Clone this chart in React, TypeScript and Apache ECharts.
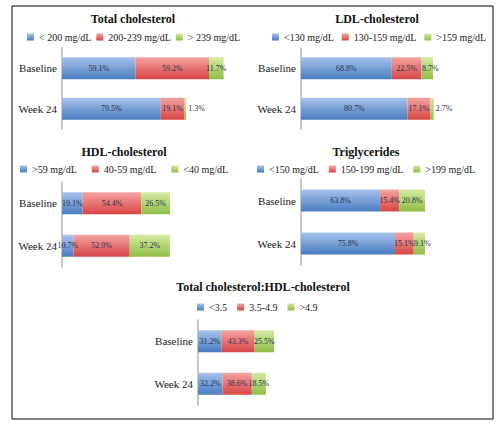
import { useEffect, useRef } from 'react';
import * as echarts from 'echarts';

const CATEGORIES = ['Baseline', 'Week 24'];

const TITLES = [
  'Total cholesterol',
  'LDL-cholesterol',
  'HDL-cholesterol',
  'Triglycerides',
  'Total cholesterol:HDL-cholesterol',
];

// Total cholesterol
const TC_LEGEND = ['< 200 mg/dL', '200-239 mg/dL', '> 239 mg/dL'];
const TC_LOW = [59.1, 79.5];
const TC_MID = [59.2, 19.1];
const TC_HIGH = [11.7, 1.3];

// LDL-cholesterol
const LDL_LEGEND = ['<130 mg/dL', '130-159 mg/dL', '>159 mg/dL'];
const LDL_LOW = [68.8, 80.7];
const LDL_MID = [22.5, 17.1];
const LDL_HIGH = [8.7, 2.7];

// HDL-cholesterol
const HDL_LEGEND = ['>59 mg/dL', '40-59 mg/dL', '<40 mg/dL'];
const HDL_HIGH = [19.1, 10.7];
const HDL_MID = [54.4, 52.0];
const HDL_LOW = [26.5, 37.2];

// Triglycerides
const TG_LEGEND = ['<150 mg/dL', '150-199 mg/dL', '>199 mg/dL'];
const TG_LOW = [63.8, 75.8];
const TG_MID = [15.4, 15.1];
const TG_HIGH = [20.8, 9.1];

// Total cholesterol:HDL-cholesterol ratio
const RATIO_LEGEND = ['<3.5', '3.5-4.9', '>4.9'];
const RATIO_LOW = [31.2, 32.2];
const RATIO_MID = [43.3, 38.6];
const RATIO_HIGH = [25.5, 18.5];

const PANEL_DATA = [
  { legend: TC_LEGEND, values: [TC_LOW, TC_MID, TC_HIGH] },
  { legend: LDL_LEGEND, values: [LDL_LOW, LDL_MID, LDL_HIGH] },
  { legend: HDL_LEGEND, values: [HDL_HIGH, HDL_MID, HDL_LOW] },
  { legend: TG_LEGEND, values: [TG_LOW, TG_MID, TG_HIGH] },
  { legend: RATIO_LEGEND, values: [RATIO_LOW, RATIO_MID, RATIO_HIGH] },
];

// layout of each panel, in pixels
const LAYOUT = [
  { left: 62, top: 48, height: 81, max: 140, width: 174, titleX: 133, titleY: 13, legendX: 27, legendY: 32, gap: 5 },
  { left: 301, top: 48, height: 81, max: 100, width: 132, titleX: 377, titleY: 13, legendX: 272, legendY: 32, gap: 8 },
  { left: 62, top: 182, height: 85, max: 100, width: 108, titleX: 124, titleY: 146, legendX: 20, legendY: 164, gap: 15 },
  { left: 301, top: 179, height: 86, max: 100, width: 124, titleX: 366, titleY: 146, legendX: 257, legendY: 164, gap: 10 },
  { left: 198, top: 320, height: 85, max: 100, width: 76, titleX: 263, titleY: 281, legendX: 197, legendY: 302, gap: 10 },
];

const FONT = '"Liberation Serif", "DejaVu Serif", serif';

const gradient = (top: string, bottom: string) =>
  new echarts.graphic.LinearGradient(0, 0, 0, 1, [
    { offset: 0, color: top },
    { offset: 1, color: bottom },
  ]);

const COLORS = [
  gradient('#a6c3ec', '#4a7cc0'),
  gradient('#f5a3a3', '#d84545'),
  gradient('#d6eaa4', '#8fbd45'),
];

const labelFor = (v: number) => {
  if (v < 5) return { value: v, label: { position: 'right', distance: 2 } };
  if (v < 10) return { value: v, label: { offset: [3, 0] } };
  return v;
};

export default function App() {
  const chartRef = useRef<HTMLDivElement>(null);

  useEffect(() => {
    if (!chartRef.current) return;
    const chart = echarts.init(chartRef.current, null, { renderer: 'svg' });

    const series: any[] = [];
    PANEL_DATA.forEach((panel, p) => {
      panel.values.forEach((vals, s) => {
        series.push({
          name: panel.legend[s],
          type: 'bar',
          stack: 'panel' + p,
          xAxisIndex: p,
          yAxisIndex: p,
          barWidth: 22,
          clip: false,
          itemStyle: { color: COLORS[s] },
          label: {
            show: true,
            position: 'inside',
            fontSize: 8,
            fontFamily: FONT,
            color: '#26324c',
            formatter: (d: any) => Number(d.value).toFixed(1) + '%',
          },
          data: vals.map(labelFor),
        });
      });
    });

    chart.setOption({
      animation: false,
      backgroundColor: '#fff',
      title: LAYOUT.map((l, i) => ({
        text: TITLES[i],
        left: l.titleX,
        top: l.titleY,
        textAlign: 'center',
        padding: 0,
        textStyle: { fontSize: 12, fontWeight: 'bold', fontFamily: FONT, color: '#111' },
      })),
      legend: LAYOUT.map((l, i) => ({
        data: PANEL_DATA[i].legend,
        left: l.legendX,
        top: l.legendY,
        width: 300,
        padding: 0,
        itemGap: l.gap,
        itemWidth: 7,
        itemHeight: 7,
        icon: 'rect',
        selectedMode: false,
        textStyle: { fontSize: 10, fontFamily: FONT, color: '#222' },
      })),
      grid: LAYOUT.map(l => ({ left: l.left, top: l.top, width: l.width, height: l.height })),
      xAxis: LAYOUT.map((l, i) => ({ gridIndex: i, type: 'value', min: 0, max: l.max, show: false })),
      yAxis: LAYOUT.map((_, i) => ({
        gridIndex: i,
        type: 'category',
        data: CATEGORIES,
        inverse: true,
        axisTick: { show: false },
        axisLine: { lineStyle: { color: '#b4b4b4', width: 1.5 } },
        axisLabel: { fontSize: 11, fontFamily: FONT, color: '#1a1a1a', margin: 5 },
      })),
      graphic: [
        {
          type: 'rect',
          shape: { x: 12, y: 6, width: 481, height: 413 },
          style: { fill: 'none', stroke: '#000', lineWidth: 1 },
          silent: true,
        },
      ],
      series,
    });

    return () => chart.dispose();
  }, []);

  return (
    <div
      ref={chartRef}
      style={{ position: 'absolute', left: 0, top: 0, width: 504, height: 426 }}
    />
  );
}
